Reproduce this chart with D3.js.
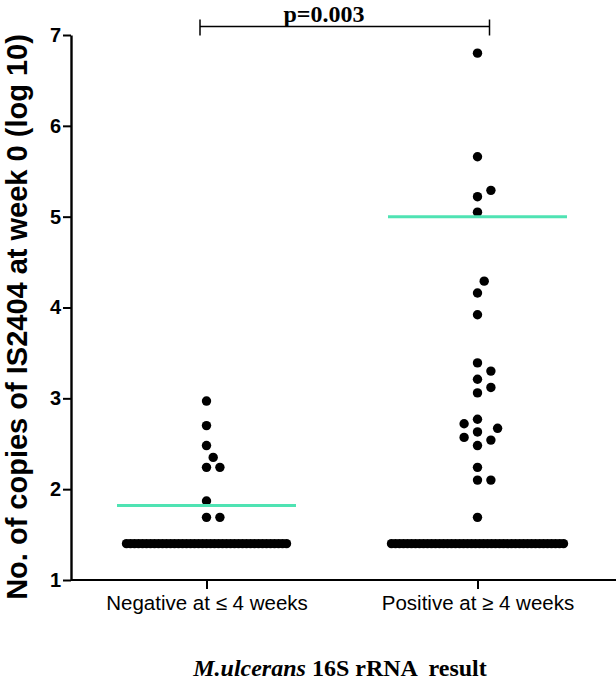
<!DOCTYPE html>
<html>
<head>
<meta charset="utf-8">
<script src="https://cdn.jsdelivr.net/npm/d3@7"></script>
<style>
  html, body { margin: 0; padding: 0; background: #fff; }
  svg { display: block; }
</style>
</head>
<body>
<svg id="chart" width="616" height="680"></svg>
<script>
// ---------------- data ----------------
const categories = ["Negative at \u2264 4 weeks", "Positive at \u2265 4 weeks"];
const negativeDetected = [2.97, 2.70, 2.48, 2.35, 2.24, 2.24, 1.87, 1.69, 1.69];
const positiveDetected = [6.80, 5.66, 5.29, 5.22, 5.05, 4.29, 4.16, 3.92, 3.39, 3.30, 3.21, 3.12, 3.06,
                          2.77, 2.72, 2.67, 2.63, 2.57, 2.54, 2.48, 2.24, 2.10, 2.10, 1.69];
const undetectedValue = 1.40;           // value of the samples at the detection limit
const undetectedCounts = [41, 44];       // number of such samples per group
const meanValues = [1.82, 5.00];
const yTicks = [1, 2, 3, 4, 5, 6, 7];
const pValueLabel = "p=0.003";
const yLabel = "No. of copies of IS2404 at week 0 (log 10)";
const titleItalic = "M.ulcerans";
const titleRest = " 16S rRNA  result";

// ---------------- layout ----------------
const svg = d3.select("#chart");
const x = d3.scalePoint().domain(categories).range([71, 613]).padding(0.5);
const y = d3.scaleLinear().domain([1, 7]).range([580, 35]);
const r = 4.7;

// y axis
const yAxis = svg.append("g").attr("transform", "translate(71,0)")
  .call(d3.axisLeft(y).tickValues(yTicks).tickFormat(d3.format("d")).tickSize(8).tickSizeOuter(0).tickPadding(2));
yAxis.select(".domain").attr("stroke", "#000").attr("stroke-width", 2.4);
yAxis.selectAll(".tick line").attr("stroke", "#000").attr("stroke-width", 2);
yAxis.selectAll(".tick text").attr("font-family", "Liberation Sans, Arial, sans-serif")
  .attr("font-weight", "bold").attr("font-size", 20).attr("fill", "#000");

// x axis
const xAxis = svg.append("g").attr("transform", "translate(0,580)")
  .call(d3.axisBottom(x).tickSize(9).tickSizeOuter(0).tickPadding(6));
xAxis.select(".domain").attr("d", "M71,0H616").attr("stroke", "#000").attr("stroke-width", 2);
xAxis.selectAll(".tick line").attr("stroke", "#000").attr("stroke-width", 2);
xAxis.selectAll(".tick text").attr("font-family", "Liberation Sans, Arial, sans-serif")
  .attr("font-size", 20.5).attr("fill", "#000").attr("dy", "0.71em");

// ---------------- points (beeswarm) ----------------
function swarm(values, cx) {
  const slot = 6.7, D = 12;
  const placed = [];
  const sorted = values.slice().sort((a, b) => a - b);
  sorted.forEach(v => {
    const py = y(v);
    for (let k = 0; k < 30; k++) {
      const off = k === 0 ? 0 : (k % 2 ? 1 : -1) * Math.ceil(k / 2) * slot;
      const px = cx + off;
      if (placed.every(p => (p.x - px) ** 2 + (p.y - py) ** 2 >= D * D)) {
        placed.push({x: px, y: py, v});
        break;
      }
    }
  });
  return placed;
}

const groups = [negativeDetected, positiveDetected];
groups.forEach((vals, i) => {
  const cx = x(categories[i]);
  // detection-limit row
  const n = undetectedCounts[i];
  const spacing = 4.0;
  const row = d3.range(n).map(j => ({x: cx + (j - (n - 1) / 2) * spacing, y: y(undetectedValue)}));
  svg.append("g").selectAll("circle").data(row).join("circle")
    .attr("cx", d => d.x).attr("cy", d => d.y).attr("r", r).attr("fill", "#000");
  // detected samples
  svg.append("g").selectAll("circle").data(swarm(vals, cx)).join("circle")
    .attr("cx", d => d.x).attr("cy", d => d.y).attr("r", r).attr("fill", "#000");
  // mean line
  svg.append("line")
    .attr("x1", cx - 89.5).attr("x2", cx + 89.5)
    .attr("y1", y(meanValues[i])).attr("y2", y(meanValues[i]))
    .attr("stroke", "#4fe3b3").attr("stroke-width", 3);
});

// ---------------- significance bracket ----------------
const bx1 = x(categories[0]) - 6.5, bx2 = x(categories[1]) + 12, by = 26.5;
const br = svg.append("g").attr("stroke", "#000").attr("stroke-width", 1.5);
br.append("line").attr("x1", bx1).attr("x2", bx2).attr("y1", by).attr("y2", by);
br.append("line").attr("x1", bx1).attr("x2", bx1).attr("y1", by - 7).attr("y2", by + 9);
br.append("line").attr("x1", bx2).attr("x2", bx2).attr("y1", by - 7).attr("y2", by + 9);
svg.append("text").attr("x", 324).attr("y", 22).attr("text-anchor", "middle")
  .attr("font-family", "Liberation Serif, Times New Roman, serif").attr("font-weight", "bold")
  .attr("font-size", 24).attr("fill", "#000").text(pValueLabel);

// ---------------- axis titles ----------------
svg.append("text").attr("transform", "translate(27,317) rotate(-90)").attr("text-anchor", "middle")
  .attr("font-family", "Liberation Sans, Arial, sans-serif").attr("font-weight", "bold")
  .attr("font-size", 29).attr("fill", "#000").text(yLabel);

const t = svg.append("text").attr("x", 340).attr("y", 676).attr("text-anchor", "middle")
  .attr("font-family", "Liberation Serif, Times New Roman, serif").attr("font-weight", "bold")
  .attr("font-size", 24).attr("fill", "#000").style("white-space", "pre");
t.append("tspan").attr("font-style", "italic").text(titleItalic);
t.append("tspan").text(titleRest);
</script>
</body>
</html>
